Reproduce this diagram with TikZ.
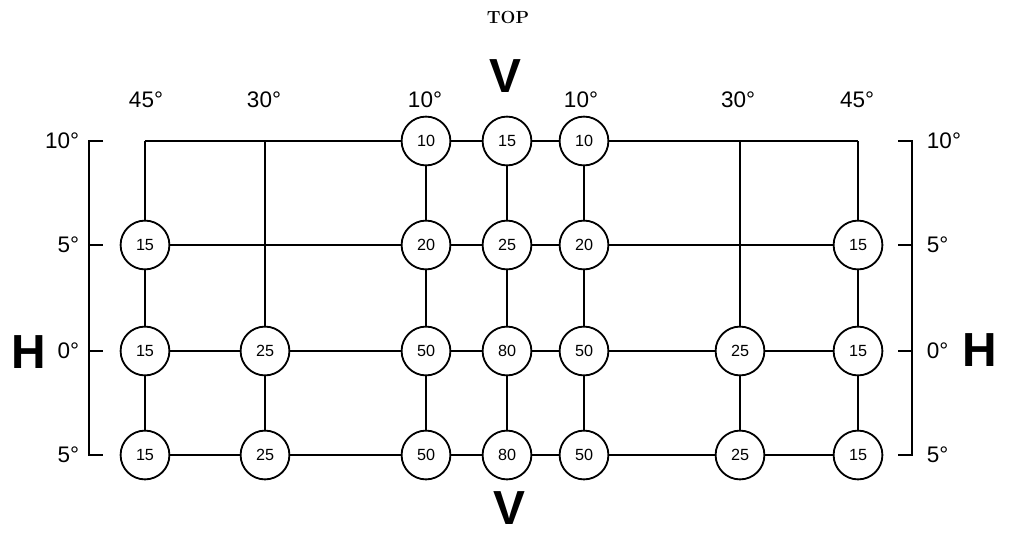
\documentclass[tikz,border=0pt]{standalone}
\usepackage{fontspec}
\setsansfont{Liberation Sans}
\begin{document}
\begin{tikzpicture}[x=0.025cm, y=-0.025cm,
  spot/.style={circle, draw, line width=1.3pt, minimum size=1.22cm, inner sep=0pt,
    font=\sffamily\fontsize{11.5}{11.5}\selectfont},
  wire/.style={line width=1.2pt},
  deg/.style={font=\sffamily\fontsize{16}{16}\selectfont},
  big/.style={inner sep=0pt, font=\sffamily\bfseries\fontsize{34}{34}\selectfont}]

\useasboundingbox (0,0) rectangle (1011,533);

% Grid positions (columns a..g, rows 1..4)
\foreach \c/\x in {a/145, b/265, c/426, d/507, e/584, f/740, g/858} {
  \foreach \r/\y in {1/141, 2/245, 3/351, 4/455} {
    \coordinate (p\c\r) at (\x,\y);
  }
}

% Plain corners and crossings
\foreach \n in {a1, b1, f1, g1, b2, f2} {
  \coordinate (\n) at (p\n);
}

% Readings
\foreach \n/\v in {c1/10, d1/15, e1/10,
                   a2/15, c2/20, d2/25, e2/20, g2/15,
                   a3/15, b3/25, c3/50, d3/80, e3/50, f3/25, g3/15,
                   a4/15, b4/25, c4/50, d4/80, e4/50, f4/25, g4/15} {
  \node[spot] (\n) at (p\n) {\v};
}

% Rows
\foreach \r in {1,...,4} {
  \draw[wire] (a\r) -- (b\r) -- (c\r) -- (d\r) -- (e\r) -- (f\r) -- (g\r);
}

% Columns
\foreach \c in {a,...,g} {
  \draw[wire] (\c1) -- (\c2) -- (\c3) -- (\c4);
}

% Left scale
\draw[wire] (103,141) -- (89,141) -- (89,455) -- (103,455);
\foreach \y in {245, 351} {
  \draw[wire] (89,\y) -- (103,\y);
}
\foreach \y/\t in {141/10°, 245/5°, 351/0°, 455/5°} {
  \node[deg, anchor=east] (ls\y) at (84,\y) {\t};
}

% Right scale
\draw[wire] (898,141) -- (912,141) -- (912,455) -- (898,455);
\foreach \y in {245, 351} {
  \draw[wire] (912,\y) -- (898,\y);
}
\foreach \y/\t in {141/10°, 245/5°, 351/0°, 455/5°} {
  \node[deg, anchor=west] (rs\y) at (922,\y) {\t};
}

% Column angles
\foreach \x/\t in {146/45°, 264/30°, 425/10°, 581/10°, 738/30°, 857/45°} {
  \node[deg] (ca\x) at (\x,100) {\t};
}

% Axis letters
\node[font=\rmfamily\bfseries\fontsize{12.5}{12.5}\selectfont] (top) at (508,17) {TOP};
\node[big] (vtop) at (505,76) {V};
\node[big] (vbot) at (509,508) {V};
\node[big] (hl) at (29,352) {H};
\node[big] (hr) at (980,350) {H};

\end{tikzpicture}
\end{document}
